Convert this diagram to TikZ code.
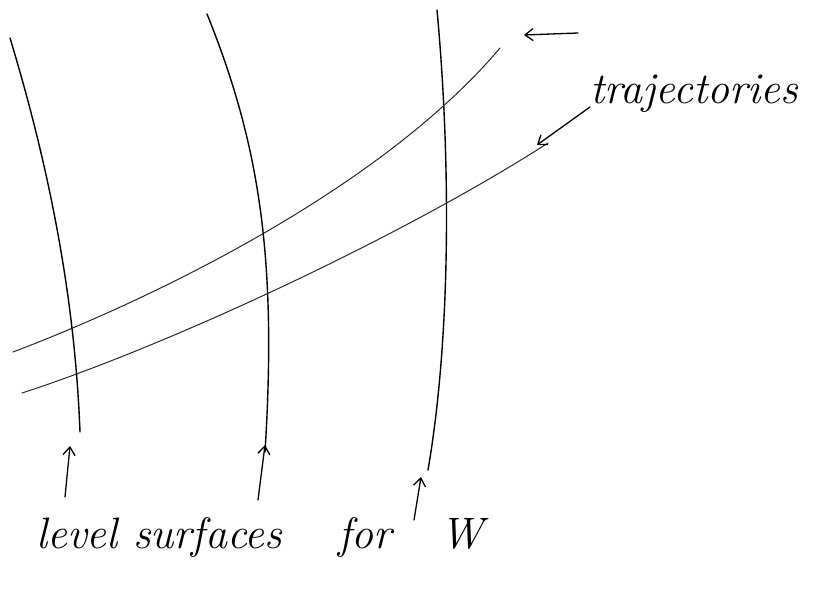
\documentclass[tikz,border=0pt]{standalone}
\usetikzlibrary{arrows.meta}
\begin{document}
\begin{tikzpicture}[x=1pt,y=-1pt,
  level/.style={line width=1.4pt,line cap=round,black},
  traj/.style={line width=1.0pt,line cap=round,black!85},
  pointer/.style={line width=1.3pt,line cap=round,-{Straight Barb[length=8pt,width=12pt,line width=1.3pt]}},
  hand/.style={font=\fontsize{44}{44}\selectfont\itshape,inner sep=0pt}]
\useasboundingbox (0,0) rectangle (814,589);
% level surfaces
\draw[level] (10,38) .. controls (50,170) and (75,300) .. (80,432);
\draw[level] (207,14) .. controls (260,145) and (277,260) .. (265,452);
\draw[level] (437,10) .. controls (450,150) and (452,330) .. (428,470);
% trajectories
\draw[traj] (13,352) .. controls (150,300) and (380,190) .. (500,48);
\draw[traj] (22,393) .. controls (170,345) and (405,235) .. (548,143);
% labels
\node[hand,anchor=base west] (traj) at (590,103) {trajectories};
\node[hand,anchor=base west] (lev) at (36,548) {level surfaces};
\node[hand,anchor=base west] (for) at (338,548) {for};
\node[hand,anchor=base west] (W) at (440,548) {W};
% pointer arrows
\coordinate (t1s) at (578,33); \coordinate (t1e) at (524,35);
\coordinate (t2s) at (590,107); \coordinate (t2e) at (537,145);
\draw[pointer] (t1s) -- (t1e);
\draw[pointer] (t2s) -- (t2e);
\coordinate (a1s) at (65,497); \coordinate (a1e) at (70,446);
\coordinate (a2s) at (258,500); \coordinate (a2e) at (265,445);
\coordinate (a3s) at (414,520); \coordinate (a3e) at (421,477);
\draw[pointer] (a1s) -- (a1e);
\draw[pointer] (a2s) -- (a2e);
\draw[pointer] (a3s) -- (a3e);
\end{tikzpicture}
\end{document}
